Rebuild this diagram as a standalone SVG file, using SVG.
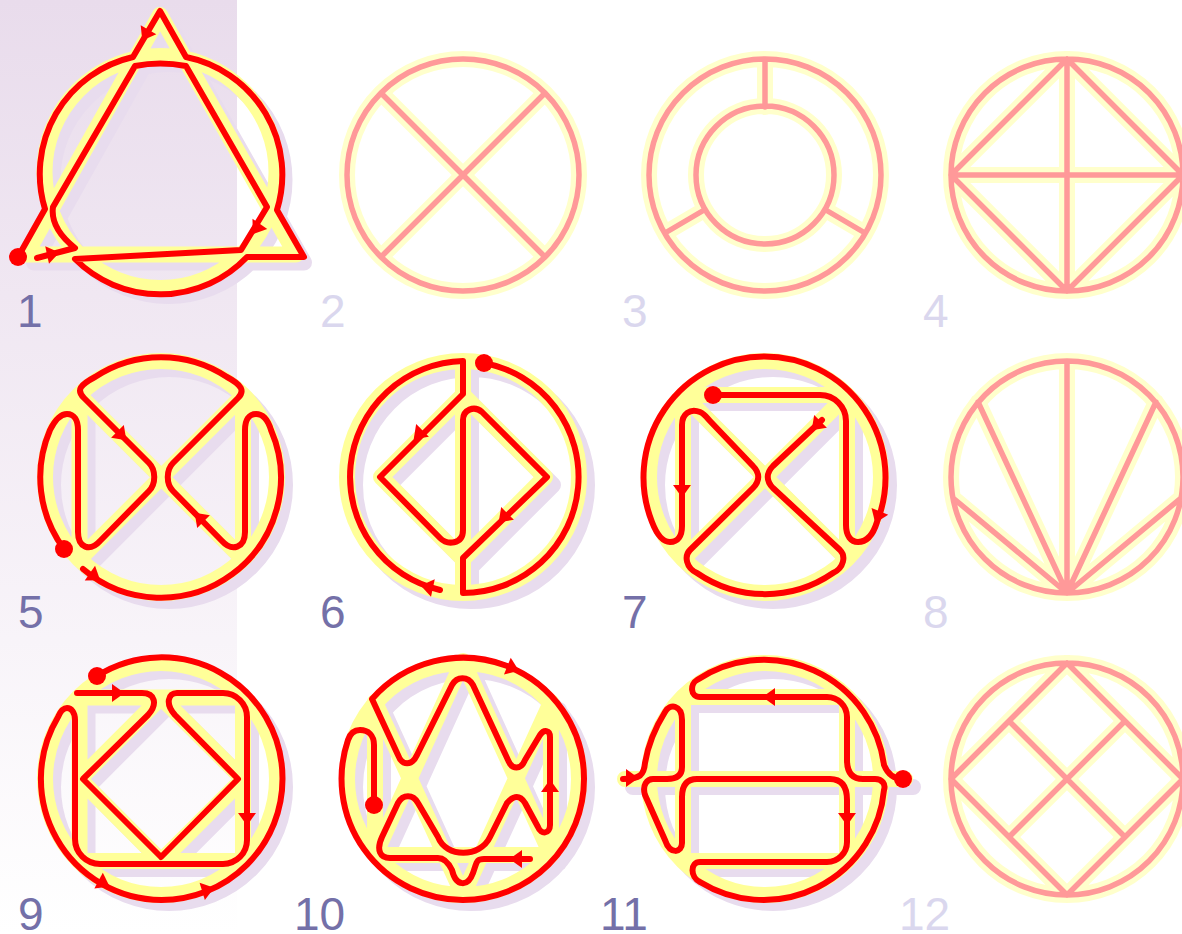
<svg xmlns="http://www.w3.org/2000/svg" width="1182" height="934" viewBox="0 0 1182 934">
<style>
.sh{fill:none;stroke:#e8dcee;stroke-width:16;stroke-linejoin:round;stroke-linecap:round}
.ye{fill:none;stroke:#ffff99;stroke-width:16;stroke-linejoin:round;stroke-linecap:round}
.yf{fill:none;stroke:#ffffcc;stroke-width:16;stroke-linejoin:round;stroke-linecap:round}
.re{fill:none;stroke:#ff0000;stroke-width:6;stroke-linejoin:round;stroke-linecap:round}
.pk{fill:none;stroke:#ff9999;stroke-width:5.5;stroke-linejoin:round;stroke-linecap:round}
.dot,.ar{fill:#ff0000}
text{font-family:"Liberation Sans",Arial,sans-serif;font-size:46px}
.on{fill:#7470a8}
.off{fill:#dad7ee}
</style>
<defs>
<linearGradient id="bg" x1="0" y1="0" x2="0" y2="1"><stop offset="0" stop-color="#e9dcec"/><stop offset="1" stop-color="#ffffff"/></linearGradient>
<polygon id="a" points="-5,-9 7.500,0 -5,9"/>
<path id="b1" d="M44.500 172a116 116 0 1 0 232 0a116 116 0 1 0 -232 0M160 15L26 254.500H296Z"/>
<path id="b2" d="M347 175a116 116 0 1 0 232 0a116 116 0 1 0 -232 0M381 93L545 257M545 93L381 257"/>
<path id="b3" d="M649 175a116 116 0 1 0 232 0a116 116 0 1 0 -232 0M696 175a69 69 0 1 0 138 0a69 69 0 1 0 -138 0M765 59V107M705 209.500L665 233M825 209.500L865 233"/>
<path id="b4" d="M951 175a116 116 0 1 0 232 0a116 116 0 1 0 -232 0M951 175L1067 59L1183 175L1067 291ZM951 175H1183M1067 59V291"/>
<path id="b5" d="M45 477a116 116 0 1 0 232 0a116 116 0 1 0 -232 0M79.500 395.500L243 559M243 395.500L79.500 559M79.500 395.500V559M243 395.500V559"/>
<path id="b6" d="M347 477a116 116 0 1 0 232 0a116 116 0 1 0 -232 0M463 361V593M463 395L545 477L463 559L381 477Z"/>
<path id="b7" d="M649 477a116 116 0 1 0 232 0a116 116 0 1 0 -232 0M683 395H847V559M683 395V559M683 395L847 559M847 395L683 559"/>
<path id="b8" d="M951 477a116 116 0 1 0 232 0a116 116 0 1 0 -232 0M1067 361V593M1067 593L978 402M1067 593L1156 402M1067 593L953 498M1067 593L1181 498"/>
<path id="b9" d="M45 779a116 116 0 1 0 232 0a116 116 0 1 0 -232 0M79.500 697.500H243V861H79.500ZM161 697.500L243 779L161 861L79.500 779Z"/>
<path id="b10" d="M347 779a116 116 0 1 0 232 0a116 116 0 1 0 -232 0M375 702V855H551V702M375 702L463 895L551 702M375 855L463 661L551 855"/>
<path id="b11" d="M649 779a116 116 0 1 0 232 0a116 116 0 1 0 -232 0M683 697H847V861H683ZM625 779H905"/>
<path id="b12" d="M951 779a116 116 0 1 0 232 0a116 116 0 1 0 -232 0M951 779L1067 663L1183 779L1067 895ZM1009 721L1125 837M1125 721L1009 837"/>
</defs>
<rect width="237" height="934" fill="url(#bg)"/>

<g id="fig-1">
<use href="#b1" class="sh" transform="translate(8,8)"/><use href="#b1" class="ye"/>
<path class="re" d="M18 257L45 209A120 120 0 0 1 133 57L160 11L186 57A120 120 0 0 1 277 210L304 257H247A120 120 0 0 1 75 259L241 250L267 207L186 66Q160 61 135 66L53 207Q50 228 75 248L37 258"/>
<circle class="dot" cx="18" cy="257" r="9"/>
<use href="#a" class="ar" transform="translate(146,34) rotate(120)"/>
<use href="#a" class="ar" transform="translate(257,228) rotate(125)"/>
<use href="#a" class="ar" transform="translate(52,254) rotate(-12)"/>
<text class="on" x="17" y="327">1</text>
</g>

<g id="fig-2"><use href="#b2" class="yf"/><use href="#b2" class="pk"/><text class="off" x="320" y="327">2</text></g>
<g id="fig-3"><use href="#b3" class="yf"/><use href="#b3" class="pk"/><text class="off" x="622" y="327">3</text></g>
<g id="fig-4"><use href="#b4" class="yf"/><use href="#b4" class="pk"/><text class="off" x="923" y="327">4</text></g>

<g id="fig-5">
<use href="#b5" class="sh" transform="translate(8,8)"/><use href="#b5" class="ye"/>
<path class="re" d="M64 549A120 120 0 0 1 50 430C55 420 60 414 67 414C74 414 78 420 78 430V532C78 548 90 552 100 541L149 491C156 484 156 470 149 463L84 398C76 390 80 385 95 377A120 120 0 0 1 227 377C242 385 245 391 238 398L173 463C166 470 166 484 173 491L222 541C232 552 245 548 245 532V430C245 420 249 414 256 414C263 414 268 420 271 430A120 120 0 0 1 83 569"/>
<circle class="dot" cx="64" cy="549" r="9"/>
<use href="#a" class="ar" transform="translate(121,435) rotate(45)"/>
<use href="#a" class="ar" transform="translate(200,518) rotate(225)"/>
<use href="#a" class="ar" transform="translate(94,576) rotate(35)"/>
<text class="on" x="18" y="628">5</text>
</g>

<g id="fig-6">
<use href="#b6" class="sh" transform="translate(8,8)"/><use href="#b6" class="ye"/>
<path class="re" d="M484 363A116 116 0 0 1 463 593V558L547 477L482 412C474 405 463 410 463 420V530C463 545 447 545 440 538L380 477L463 394V361A116 116 0 0 0 440 590"/>
<circle class="dot" cx="484" cy="363" r="9"/>
<use href="#a" class="ar" transform="translate(419,434) rotate(135)"/>
<use href="#a" class="ar" transform="translate(504,517) rotate(135)"/>
<use href="#a" class="ar" transform="translate(428,587) rotate(192)"/>
<text class="on" x="320" y="628">6</text>
</g>

<g id="fig-7">
<use href="#b7" class="sh" transform="translate(8,8)"/><use href="#b7" class="ye"/>
<path class="re" d="M713 395H820A26 26 0 0 1 846 421V525C846 536 851 542 858 542C866 542 873 535 877 522A121 121 0 1 0 652 522C657 535 663 542 670 542C678 542 682 536 682 526V425C682 414 690 408 700 412C705 414 708 419 710 421L753 466C760 473 760 481 753 488L690 550C684 556 686 568 697 573A120 120 0 0 0 833 573C844 568 846 556 840 550L773 488C766 481 766 473 773 466L822 420"/>
<circle class="dot" cx="713" cy="395" r="9"/>
<use href="#a" class="ar" transform="translate(817,425) rotate(135)"/>
<use href="#a" class="ar" transform="translate(682,490) rotate(90)"/>
<use href="#a" class="ar" transform="translate(878,516) rotate(112)"/>
<text class="on" x="622" y="628">7</text>
</g>

<g id="fig-8"><use href="#b8" class="yf"/><use href="#b8" class="pk"/><text class="off" x="923" y="628">8</text></g>

<g id="fig-9">
<use href="#b9" class="sh" transform="translate(8,8)"/><use href="#b9" class="ye"/>
<path class="re" d="M97 676A121 121 0 0 1 282.500 779A121 121 0 0 1 161.500 900A121 121 0 0 1 58 717C61 710 64 708 67 708C71 708 75 712 75 720V839A25 25 0 0 0 100 864H223A24 24 0 0 0 247 840V717A24 24 0 0 0 223 693H177C168 693 165 704 175 715L238 779L161 857L83 779L148 715C158 704 155 693 142 693H77"/>
<circle class="dot" cx="97" cy="676" r="9"/>
<use href="#a" class="ar" transform="translate(117,693)"/>
<use href="#a" class="ar" transform="translate(247,818) rotate(90)"/>
<use href="#a" class="ar" transform="translate(207,890) rotate(-17)"/>
<use href="#a" class="ar" transform="translate(103,883) rotate(28)"/>
<text class="on" x="18" y="930">9</text>
</g>

<g id="fig-10">
<use href="#b10" class="sh" transform="translate(8,8)"/><use href="#b10" class="ye"/>
<path class="re" d="M374 805V745C374 735 368 730 360 730C354 730 350 734 348 740A121 121 0 0 0 463 900A121 121 0 0 0 584 779A121 121 0 0 0 372 699L398 755C402 766 412 766 417 755L452 685C457 676 468 676 473 685L508 760C512 770 521 770 525 760L540 735C544 729 550 730 550 737V825C550 834 541 835 538 827L525 803C520 795 514 795 507 803L490 837C480 858 446 858 438 837L418 803C413 794 403 794 398 803L382 837C376 850 380 858 390 858H438C444 858 448 862 452 870C456 887 468 887 473 873C477 862 476 859 484 859H530"/>
<circle class="dot" cx="374" cy="805" r="9"/>
<use href="#a" class="ar" transform="translate(512,668) rotate(22)"/>
<use href="#a" class="ar" transform="translate(550,787) rotate(-90)"/>
<use href="#a" class="ar" transform="translate(517,859) rotate(180)"/>
<text class="on" x="294" y="930">10</text>
</g>

<g id="fig-11">
<use href="#b11" class="sh" transform="translate(8,8)"/><use href="#b11" class="ye"/>
<path class="re" d="M903 779C895 779 888 775 884 765A121 121 0 0 0 697 680C690 684 690 697 700 697H827A20 20 0 0 1 847 717V760Q847 779 863 779H875C882 779 886 784 884 790A121 121 0 0 1 700 882C690 877 690 862 700 862H827A20 20 0 0 0 847 842V800Q847 779 830 779H697Q682 779 682 797V843C682 853 670 855 665 840L645 795C642 785 647 779 653 779H667Q682 779 682 767V720C682 705 670 703 665 712C655 728 648 745 645 763C644 775 640 779 623 779"/>
<circle class="dot" cx="903" cy="779" r="9"/>
<use href="#a" class="ar" transform="translate(770,697) rotate(180)"/>
<use href="#a" class="ar" transform="translate(847,818) rotate(90)"/>
<use href="#a" class="ar" transform="translate(631,778)"/>
<text class="on" x="600" y="930">11</text>
</g>

<g id="fig-12"><use href="#b12" class="yf"/><use href="#b12" class="pk"/><text class="off" x="899" y="930">12</text></g>
</svg>
